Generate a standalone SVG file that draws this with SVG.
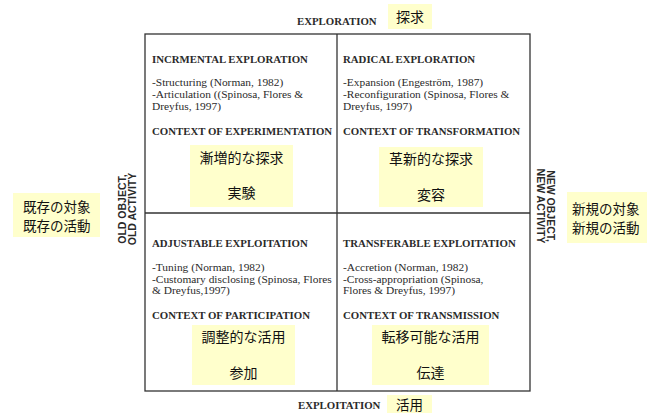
<svg xmlns="http://www.w3.org/2000/svg" width="647" height="413" viewBox="0 0 647 413">
<style>
.h{font-family:"Liberation Serif",serif;font-weight:bold;font-size:10.8px;fill:#2a2a2a}
.b{font-family:"Liberation Serif",serif;font-size:11.4px;fill:#2a2a2a}
.v{font-family:"Liberation Sans",sans-serif;font-weight:bold;font-size:10.5px;fill:#2a2a2a}
.j{font-family:"Noto Sans CJK JP",sans-serif;font-size:14px;fill:#111}
.s{font-family:"Noto Sans CJK JP",sans-serif;font-size:13.5px;fill:#111}
.hl{fill:#FFFFCC}
.ln{stroke:#333;stroke-width:1.3;fill:none}
</style>
<rect width="647" height="413" fill="#fff"/>
<g id="axis-top">
<text class="h" x="297" y="25">EXPLORATION</text>
<rect class="hl" x="388" y="4" width="44" height="25"/>
<text class="j" x="410" y="22" text-anchor="middle">探求</text>
</g>
<g id="axis-bottom">
<text class="h" x="298" y="409">EXPLOITATION</text>
<rect class="hl" x="387" y="395" width="45" height="18"/>
<text class="s" x="409.5" y="410" text-anchor="middle">活用</text>
</g>
<g id="axis-left">
<text class="v" transform="translate(126,209) rotate(-90)" text-anchor="middle"><tspan x="0" y="0">OLD OBJECT,</tspan><tspan x="0" y="10">OLD ACTIVITY</tspan></text>
<rect class="hl" x="13" y="193" width="87" height="44"/>
<text class="s" x="23" y="212">既存の対象</text>
<text class="s" x="23" y="231">既存の活動</text>
</g>
<g id="axis-right">
<text class="v" transform="translate(547,206) rotate(90)" text-anchor="middle"><tspan x="0" y="0">NEW OBJECT,</tspan><tspan x="0" y="10">NEW ACTIVITY</tspan></text>
<rect class="hl" x="567" y="192" width="80" height="51"/>
<text class="s" x="572" y="214">新規の対象</text>
<text class="s" x="572" y="233">新規の活動</text>
</g>
<g id="connectors">
<rect class="ln" x="145" y="34" width="385" height="357"/>
<line class="ln" x1="337" y1="34" x2="337" y2="391"/>
<line class="ln" x1="145" y1="213" x2="530" y2="213"/>
</g>
<g id="q-incremental">
<text class="h" x="152" y="63">INCRMENTAL EXPLORATION</text>
<text class="b" x="152" y="86">-Structuring (Norman, 1982)</text>
<text class="b" x="152" y="98">-Articulation ((Spinosa, Flores &amp;</text>
<text class="b" x="152" y="110">Dreyfus, 1997)</text>
<text class="h" x="152" y="135">CONTEXT OF EXPERIMENTATION</text>
<rect class="hl" x="190" y="145" width="103" height="62"/>
<text class="j" x="241.5" y="163" text-anchor="middle">漸増的な探求</text>
<text class="j" x="241.5" y="198" text-anchor="middle">実験</text>
</g>
<g id="q-radical">
<text class="h" x="343" y="63">RADICAL EXPLORATION</text>
<text class="b" x="343" y="86">-Expansion (Engeström, 1987)</text>
<text class="b" x="343" y="98">-Reconfiguration (Spinosa, Flores &amp;</text>
<text class="b" x="343" y="110">Dreyfus, 1997)</text>
<text class="h" x="343" y="135">CONTEXT OF TRANSFORMATION</text>
<rect class="hl" x="379" y="147" width="104" height="60"/>
<text class="j" x="431" y="164" text-anchor="middle">革新的な探求</text>
<text class="j" x="431" y="200" text-anchor="middle">変容</text>
</g>
<g id="q-adjustable">
<text class="h" x="152" y="247">ADJUSTABLE EXPLOITATION</text>
<text class="b" x="152" y="271">-Tuning (Norman, 1982)</text>
<text class="b" x="152" y="283">-Customary disclosing (Spinosa, Flores</text>
<text class="b" x="152" y="294">&amp; Dreyfus,1997)</text>
<text class="h" x="152" y="319">CONTEXT OF PARTICIPATION</text>
<rect class="hl" x="192" y="325" width="103" height="60"/>
<text class="j" x="243.5" y="342" text-anchor="middle">調整的な活用</text>
<text class="j" x="243.5" y="378" text-anchor="middle">参加</text>
</g>
<g id="q-transferable">
<text class="h" x="343" y="247">TRANSFERABLE EXPLOITATION</text>
<text class="b" x="343" y="271">-Accretion (Norman, 1982)</text>
<text class="b" x="343" y="283">-Cross-appropriation (Spinosa,</text>
<text class="b" x="343" y="294">Flores &amp; Dreyfus, 1997)</text>
<text class="h" x="343" y="319">CONTEXT OF TRANSMISSION</text>
<rect class="hl" x="372" y="325" width="117" height="60"/>
<text class="j" x="430.5" y="342" text-anchor="middle">転移可能な活用</text>
<text class="j" x="430.5" y="378" text-anchor="middle">伝達</text>
</g>
</svg>
